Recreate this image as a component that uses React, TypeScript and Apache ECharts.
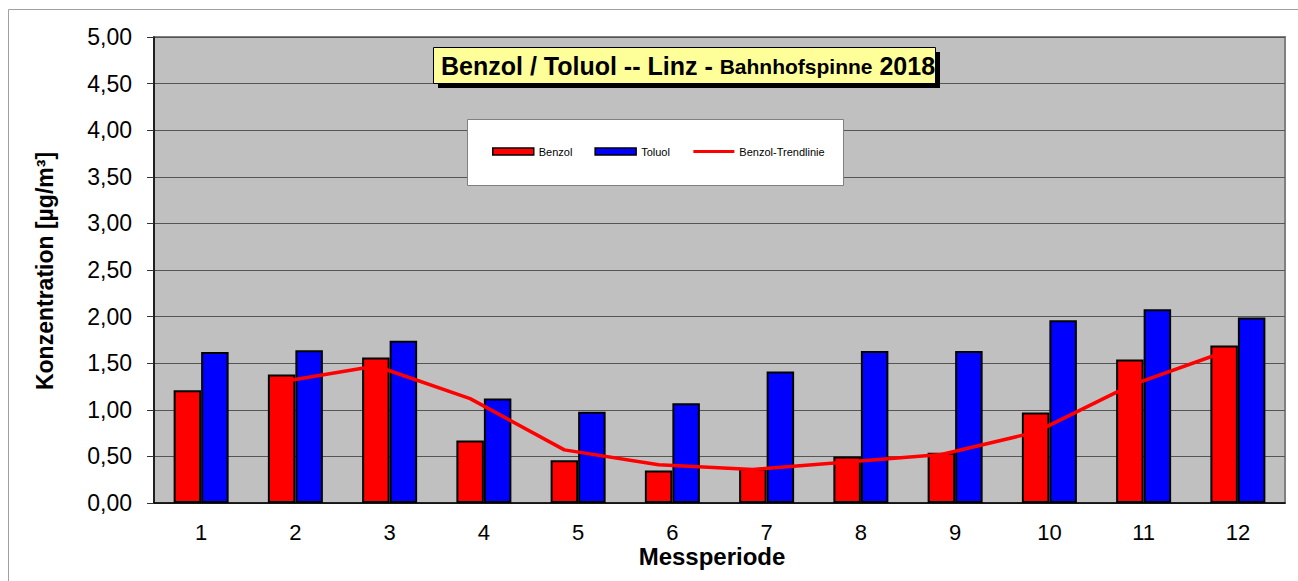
import React, { useEffect, useRef } from 'react';
import * as echarts from 'echarts';

const categories = ['1', '2', '3', '4', '5', '6', '7', '8', '9', '10', '11', '12'];
const benzol = [1.21, 1.38, 1.56, 0.67, 0.46, 0.35, 0.37, 0.5, 0.54, 0.97, 1.54, 1.69];
const toluol = [1.62, 1.64, 1.74, 1.12, 0.98, 1.07, 1.41, 1.63, 1.63, 1.96, 2.08, 1.99];
const benzolTrend = [null, 1.3, 1.47, 1.12, 0.57, 0.41, 0.36, 0.44, 0.52, 0.76, 1.26, 1.62];

const W = 1298;
const H = 581;
const GRID = { left: 154, right: 13, top: 37, bottom: 78 };
const BAR_W = 27.5;
const FONT = '"Liberation Sans", Arial, sans-serif';

const catWidth = (W - GRID.left - GRID.right) / categories.length;
const redOffset = BAR_W / 2 / catWidth;

const trendData = benzolTrend
  .map((v, i) => (v == null ? null : [i - redOffset, v]))
  .filter((d) => d !== null);

const option: any = {
  animation: false,
  textStyle: { fontFamily: FONT },
  grid: { ...GRID, show: true, backgroundColor: '#C0C0C0', borderColor: '#808080', borderWidth: 2 },
  xAxis: [
    {
      type: 'category',
      data: categories,
      axisLine: { lineStyle: { color: '#000', width: 1.5 } },
      axisTick: { length: 6, lineStyle: { color: '#808080' } },
      axisLabel: { fontSize: 22, color: '#000', margin: 18, fontFamily: FONT },
      splitLine: { show: false },
    },
    { type: 'value', min: -0.5, max: 11.5, show: false },
  ],
  yAxis: {
    type: 'value',
    min: 0,
    max: 5,
    interval: 0.5,
    axisLine: { show: true, onZero: false, lineStyle: { color: '#000', width: 1.5 } },
    axisTick: { show: true, length: 7, lineStyle: { color: '#333' } },
    axisLabel: {
      fontSize: 23,
      color: '#000',
      margin: 22,
      fontFamily: FONT,
      formatter: (v: number) => v.toFixed(2).replace('.', ','),
    },
    splitLine: { lineStyle: { color: '#555', width: 1 } },
  },
  legend: {
    left: 492,
    top: 146,
    padding: 0,
    itemWidth: 41,
    itemHeight: 7,
    itemGap: 22,
    textStyle: { fontSize: 11, color: '#000', fontFamily: FONT },
    data: [
      { name: 'Benzol', icon: 'rect', itemStyle: { borderWidth: 1.5 } },
      { name: 'Toluol', icon: 'rect', itemStyle: { borderWidth: 1.5 } },
      {
        name: 'Benzol-Trendlinie',
        itemStyle: { color: 'rgba(0,0,0,0)', borderWidth: 0, opacity: 0 },
        lineStyle: { color: '#FF0000', width: 3 },
      },
    ],
  },
  series: [
    {
      name: 'Benzol',
      type: 'bar',
      data: benzol,
      barWidth: BAR_W,
      barGap: '0%',
      itemStyle: { color: '#FF0000', borderColor: '#000', borderWidth: 2 },
    },
    {
      name: 'Toluol',
      type: 'bar',
      data: toluol,
      barWidth: BAR_W,
      barGap: '0%',
      itemStyle: { color: '#0000FF', borderColor: '#000', borderWidth: 2 },
    },
    {
      name: 'Benzol-Trendlinie',
      type: 'line',
      xAxisIndex: 1,
      data: trendData,
      symbol: 'none',
      lineStyle: { color: '#FF0000', width: 3.5 },
      itemStyle: { color: '#FF0000' },
      z: 5,
    },
  ],
  graphic: [
    {
      type: 'polyline',
      shape: { points: [[8.5, 581], [8.5, 9.5], [1298, 9.5]] },
      style: { stroke: '#A0A0A0', lineWidth: 1, fill: null },
      z: 0,
    },
    {
      type: 'rect',
      shape: { x: 438, y: 52, width: 502, height: 36 },
      style: { fill: '#000' },
      z: 3,
    },
    {
      type: 'rect',
      shape: { x: 433.5, y: 47.5, width: 502, height: 36 },
      style: { fill: '#FFFF99', stroke: '#000', lineWidth: 1 },
      z: 3,
    },
    {
      type: 'text',
      x: 441,
      y: 66,
      z: 4,
      style: {
        text: '{a|Benzol / Toluol -- Linz - }{b|Bahnhofspinne}{a| 2018}',
        rich: {
          a: { fontSize: 25, fontWeight: 'bold', fontFamily: FONT, fill: '#000' },
          b: { fontSize: 21, fontWeight: 'bold', fontFamily: FONT, fill: '#000' },
        },
        verticalAlign: 'middle',
        fill: '#000',
      },
    },
    {
      type: 'rect',
      shape: { x: 467.5, y: 119.5, width: 376, height: 66 },
      style: { fill: '#fff', stroke: '#808080', lineWidth: 1 },
      z: 3,
    },
    {
      type: 'text',
      x: 45,
      y: 271,
      rotation: Math.PI / 2,
      z: 4,
      style: {
        text: 'Konzentration [µg/m³]',
        fontSize: 23,
        fontWeight: 'bold',
        fontFamily: FONT,
        fill: '#000',
        align: 'center',
        verticalAlign: 'middle',
      },
    },
    {
      type: 'text',
      x: 712,
      y: 556,
      z: 4,
      style: {
        text: 'Messperiode',
        fontSize: 24,
        fontWeight: 'bold',
        fontFamily: FONT,
        fill: '#000',
        align: 'center',
        verticalAlign: 'middle',
      },
    },
  ],
};

export default function App() {
  const ref = useRef<HTMLDivElement>(null);
  useEffect(() => {
    const chart = echarts.init(ref.current!, null, { renderer: 'svg', width: W, height: H });
    chart.setOption(option);
    return () => chart.dispose();
  }, []);
  return (
    <div
      ref={ref}
      style={{ position: 'absolute', left: 0, top: 0, width: W, height: H, background: '#fff' }}
    />
  );
}
